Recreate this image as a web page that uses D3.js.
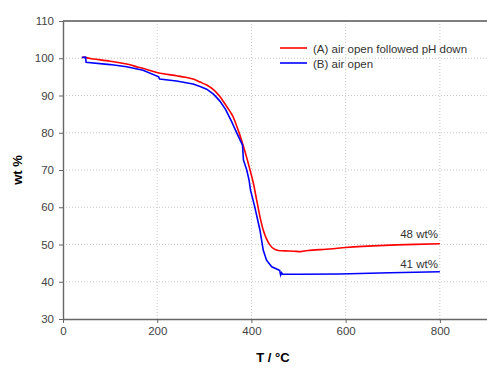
<!DOCTYPE html>
<html>
<head>
<meta charset="utf-8">
<script src="https://cdn.jsdelivr.net/npm/d3@7"></script>
<style>
  body { margin: 0; background: #fff; }
  svg { font-family: "Liberation Sans", Arial, sans-serif; }
</style>
</head>
<body>
<div id="chart"></div>
<script>
// series A: air open followed pH down
var tempA = [40, 45, 50, 65, 100, 135, 160, 178, 199, 220, 241, 260, 276, 291, 305, 320, 333, 345, 355, 361,
             374, 385, 397, 404, 411, 418, 425, 432, 439, 447, 457, 470, 490, 505, 520, 566, 600, 636, 708, 800];
var wtA   = [100.2, 100.3, 100.1, 99.8, 99.2, 98.45, 97.6, 97.0, 96.2, 95.7, 95.3, 94.9, 94.4, 93.6, 92.8, 91.5, 89.7, 87.5, 85.6, 84.3,
             79.9, 75.5, 70, 66.5, 62, 57.5, 53.9, 51.5, 49.9, 48.9, 48.4, 48.3, 48.2, 48.1, 48.4, 48.8, 49.2, 49.5, 49.9, 50.2];

// series B: air open
var tempB = [40, 48, 49, 100, 135, 170, 203, 205, 241, 276, 291, 305, 320, 333, 345, 358, 369, 378, 381, 383,
             390, 395, 398, 407, 418, 425, 432, 443, 457, 460, 462, 464, 466, 500, 587, 694, 800];
var wtB   = [100.2, 100.3, 98.9, 98.3, 97.7, 96.8, 95.0, 94.4, 93.9, 93.1, 92.4, 91.7, 90.3, 88.5, 86.3, 83, 79.9, 77.5, 76.7, 72.7,
             70, 67.3, 64.6, 60.1, 53.9, 48.5, 45.8, 44.0, 43.2, 43.0, 41.8, 42.4, 42.0, 42.0, 42.1, 42.4, 42.7];

var xTicks = [0, 200, 400, 600, 800];
var yTicks = [30, 40, 50, 60, 70, 80, 90, 100, 110];
var seriesNames = ["(A) air open followed pH down", "(B) air open"];
var seriesColors = ["#ff0000", "#0000ff"];
var endLabels = ["48 wt%", "41 wt%"];

var w = 487, h = 367;
var margin = {top: 21, right: 0, bottom: 48, left: 63};

var svg = d3.select("#chart").append("svg")
    .attr("width", w)
    .attr("height", h);

var x = d3.scaleLinear().domain([0, 900]).range([margin.left, w - margin.right]);
var y = d3.scaleLinear().domain([30, 110]).range([h - margin.bottom, margin.top]);

// dotted grid
svg.selectAll(".gx")
   .data(xTicks.filter(function(d) { return d > 0; }))
   .enter().append("line")
   .attr("x1", function(d) { return x(d); })
   .attr("x2", function(d) { return x(d); })
   .attr("y1", y(30)).attr("y2", y(110))
   .attr("stroke", "#c8c8c8")
   .attr("stroke-dasharray", "1,2");

svg.selectAll(".gy")
   .data(yTicks.filter(function(d) { return d > 30 && d < 110; }))
   .enter().append("line")
   .attr("y1", function(d) { return y(d); })
   .attr("y2", function(d) { return y(d); })
   .attr("x1", x(0)).attr("x2", x(900))
   .attr("stroke", "#c8c8c8")
   .attr("stroke-dasharray", "1,2");

// top border
svg.append("line")
   .attr("x1", x(0)).attr("x2", x(900))
   .attr("y1", y(110)).attr("y2", y(110))
   .attr("stroke", "#555").attr("stroke-width", 1.3);

// axes
var xAxis = svg.append("g")
   .attr("transform", "translate(0," + y(30) + ")")
   .call(d3.axisBottom(x).tickValues(xTicks).tickSize(4).tickPadding(4).tickSizeOuter(0));
var yAxis = svg.append("g")
   .attr("transform", "translate(" + x(0) + ",0)")
   .call(d3.axisLeft(y).tickValues(yTicks).tickSize(4).tickPadding(5).tickSizeOuter(0));

[xAxis, yAxis].forEach(function(g) {
  g.select(".domain").attr("stroke", "#666").attr("stroke-width", 1.4);
  g.selectAll(".tick line").attr("stroke", "#666");
  g.selectAll(".tick text")
   .attr("fill", "#444")
   .style("font-size", "11.5px")
   .style("font-family", "'Liberation Sans', Arial, sans-serif");
});

// curves
var line = d3.line()
   .x(function(d) { return x(d[0]); })
   .y(function(d) { return y(d[1]); });

var dataA = tempA.map(function(t, i) { return [t, wtA[i]]; });
var dataB = tempB.map(function(t, i) { return [t, wtB[i]]; });

svg.append("path").datum(dataA)
   .attr("d", line.curve(d3.curveCatmullRom))
   .attr("fill", "none").attr("stroke", seriesColors[0]).attr("stroke-width", 1.6);
svg.append("path").datum(dataB)
   .attr("d", line.curve(d3.curveLinear))
   .attr("fill", "none").attr("stroke", seriesColors[1]).attr("stroke-width", 1.6);

// legend
var legend = svg.append("g");
seriesNames.forEach(function(name, i) {
  var ly = 48 + i * 15;
  legend.append("line")
     .attr("x1", 280).attr("x2", 307)
     .attr("y1", ly).attr("y2", ly)
     .attr("stroke", seriesColors[i]).attr("stroke-width", 1.6);
  legend.append("text")
     .attr("x", 313).attr("y", ly + 4.5)
     .attr("fill", "#333")
     .style("font-size", "11.5px")
     .text(name);
});

// end labels
svg.append("text")
   .attr("x", x(800) - 2).attr("y", y(50.2) - 6)
   .attr("text-anchor", "end").attr("fill", "#333")
   .style("font-size", "11.5px")
   .text(endLabels[0]);
svg.append("text")
   .attr("x", x(800) - 2).attr("y", y(42.7) - 4)
   .attr("text-anchor", "end").attr("fill", "#333")
   .style("font-size", "11.5px")
   .text(endLabels[1]);

// axis titles
svg.append("text")
   .attr("transform", "translate(22," + ((y(30) + y(110)) / 2) + ") rotate(-90)")
   .attr("text-anchor", "middle")
   .style("font-size", "13px").style("font-weight", "bold")
   .text("wt %");

svg.append("text")
   .attr("x", 273).attr("y", 362)
   .attr("text-anchor", "middle")
   .style("font-size", "13px").style("font-weight", "bold")
   .text("T / \u00B0C");
</script>
</body>
</html>
